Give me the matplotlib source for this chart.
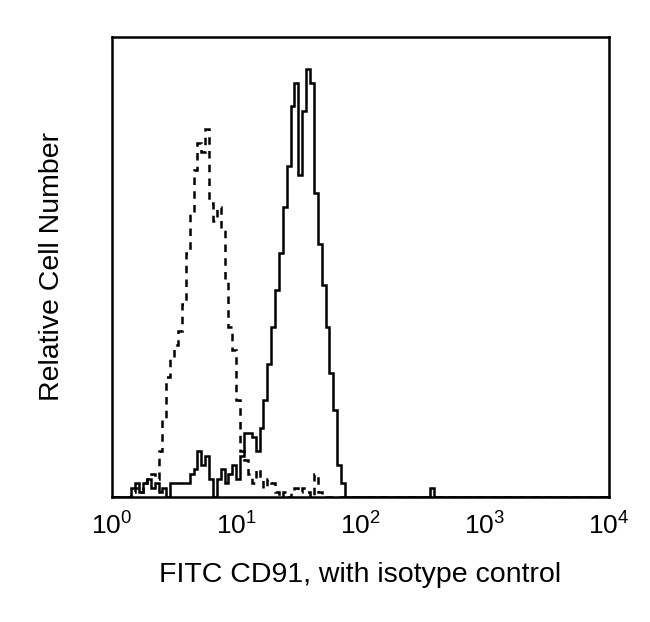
import matplotlib.pyplot as plt
import numpy as np

plt.rcParams['font.family'] = ['Liberation Sans', 'DejaVu Sans']

# 128 log channels over 4 decades, counts for the first 64 channels
n_channels = 128
cd91 = [0, 0, 0, 0, 0, 2, 3, 1, 3, 4, 2, 3, 1, 2, 0, 3,
        3, 3, 3, 3, 5, 6, 10, 7, 9, 4, 0, 4, 6, 3, 5, 7,
        4, 9, 14, 14, 13, 10, 15, 21, 29, 37, 45, 53, 63, 72, 85, 90,
        70, 84, 93, 90, 66, 55, 46, 37, 27, 19, 7, 3, 0, 0, 0, 0]
isotype = [0, 0, 0, 0, 0, 1, 2, 1, 3, 4, 5, 4, 10, 17, 26, 30,
           33, 36, 42, 53, 62, 71, 77, 75, 80, 64, 60, 63, 58, 47, 37, 32,
           21, 10, 8, 5, 3, 6, 4, 2, 4, 3, 1, 0, 1, 0, 1, 2,
           1, 2, 1, 0, 5, 1, 0, 0, 0, 0, 0, 0, 0, 0, 0, 0]
cd91_spike_channel = 82
cd91_spike_count = 2

edges = 10 ** (np.arange(n_channels + 1) / 32)
solid = np.zeros(n_channels)
solid[:len(cd91)] = cd91
solid[cd91_spike_channel] = cd91_spike_count
dashed = np.zeros(n_channels)
dashed[:len(isotype)] = isotype

fig = plt.figure(figsize=(6.5, 6.22), dpi=100)
ax = fig.add_axes([0.1723, 0.201, 0.7646, 0.7395])

ax.stairs(dashed, edges, color='black', lw=1.8, linestyle=(0, (3, 2.5)))
ax.stairs(solid, edges, color='black', lw=1.8)

ax.set_xscale('log')
ax.set_xlim(1, 1e4)
ax.set_ylim(0, 100)
ax.set_xticks([1, 10, 100, 1000, 10000])
ax.set_xticklabels([r'$\mathregular{10^{%d}}$' % i for i in range(5)], fontsize=19)
ax.xaxis.set_minor_locator(plt.NullLocator())
ax.set_yticks([])
ax.tick_params(axis='x', length=0, pad=11)
for s in ax.spines.values():
    s.set_linewidth(1.8)

ax.set_xlabel('FITC CD91, with isotype control', fontsize=20.5, labelpad=16)
ax.set_ylabel('Relative Cell Number', fontsize=20.5, labelpad=34)

fig.savefig('out.png', dpi=100)
